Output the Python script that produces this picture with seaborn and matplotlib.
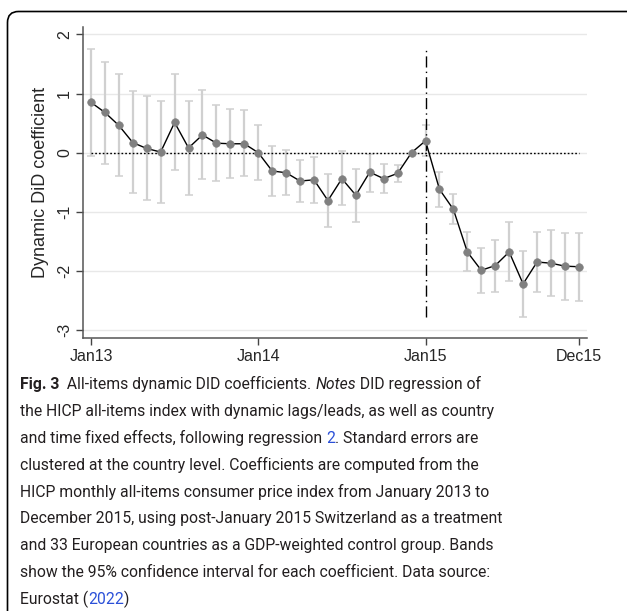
import numpy as np
import pandas as pd
import matplotlib
matplotlib.use("Agg")
import matplotlib.pyplot as plt
import matplotlib.transforms as mtransforms
from matplotlib.patches import FancyBboxPatch
import seaborn as sns

# Data, Jan 2013 .. Dec 2015
months = pd.date_range("2013-01-01", "2015-12-01", freq="MS").strftime("%b%y").tolist()
coef = [0.85, 0.68, 0.46, 0.17, 0.07, 0.01, 0.51, 0.08, 0.30, 0.16, 0.15, 0.15,
        0.00, -0.31, -0.34, -0.48, -0.46, -0.81, -0.44, -0.72, -0.33, -0.44, -0.35, 0.00,
        0.20, -0.62, -0.96, -1.68, -1.99, -1.91, -1.68, -2.22, -1.85, -1.87, -1.92, -1.93]
ci_hi = [1.75, 1.54, 1.33, 1.04, 0.95, 0.87, 1.33, 0.88, 1.06, 0.80, 0.73, 0.72,
         0.46, 0.12, 0.04, -0.12, -0.07, -0.36, 0.02, -0.27, -0.02, -0.19, -0.21, np.nan,
         0.46, -0.32, -0.70, -1.34, -1.62, -1.48, -1.18, -1.66, -1.34, -1.31, -1.36, -1.36]
ci_lo = [-0.06, -0.19, -0.40, -0.68, -0.80, -0.85, -0.30, -0.71, -0.45, -0.48, -0.43, -0.40,
         -0.47, -0.74, -0.71, -0.84, -0.85, -1.26, -0.88, -1.17, -0.67, -0.68, -0.50, np.nan,
         -0.06, -0.92, -1.21, -2.01, -2.37, -2.35, -2.17, -2.78, -2.36, -2.43, -2.49, -2.51]
tick_labels = ["Jan13", "Jan14", "Jan15", "Dec15"]
event_month = "Jan15"

df = pd.DataFrame({"t": np.arange(len(months)), "month": months,
                   "coef": coef, "lo": ci_lo, "hi": ci_hi})

sns.set_style("white")
plt.rcParams["font.family"] = ["Liberation Sans", "DejaVu Sans"]

fig = plt.figure(figsize=(6.27, 6.11), dpi=100)
ax = fig.add_axes([0.1324, 0.4473, 0.8037, 0.509])

# confidence bands
ax.errorbar(df["t"], df["coef"], yerr=[df["coef"] - df["lo"], df["hi"] - df["coef"]],
            fmt="none", ecolor="#d0d0d0", elinewidth=1.6, capsize=3, capthick=1.1, zorder=1)
ax.hlines(0, df["t"].iloc[0], df["t"].iloc[-1], colors="black", lw=1.0,
          linestyles=(0, (1.2, 1.5)), zorder=2)
t_event = months.index(event_month)
ax.vlines(t_event, np.nanmin(ci_lo), np.nanmax(ci_hi), colors="black", lw=1.0,
          linestyles=(0, (8, 3, 1, 3)), zorder=2)
sns.lineplot(data=df, x="t", y="coef", color="black", lw=1.0, ax=ax, zorder=3)
sns.scatterplot(data=df, x="t", y="coef", color="#808080", edgecolor="#808080",
                s=30, ax=ax, zorder=4)

ax.set_xlim(-0.57, 35.58)
ax.set_ylim(-3.13, 2.13)
ax.set_yticks([-3, -2, -1, 0, 1, 2])
ax.set_yticklabels(["-3", "-2", "-1", "0", "1", "2"], rotation=90, va="center")
ax.set_xticks([months.index(m) for m in tick_labels])
ax.set_xticklabels(tick_labels)
ax.grid(axis="y", color="#e8e8e8", lw=1.0)
ax.set_axisbelow(True)
ax.tick_params(axis="both", labelsize=11.5, length=5, width=1, color="#444444",
               direction="out", left=True, bottom=True, pad=3)
ax.set_xlabel("")
ax.set_ylabel("Dynamic DiD coefficient", fontsize=13, labelpad=6)
for side in ["top", "right"]:
    ax.spines[side].set_visible(False)
for side in ["left", "bottom"]:
    ax.spines[side].set_color("#555555")
    ax.spines[side].set_linewidth(1.1)

# outer frame (rounded, cropped at right and bottom)
frame = FancyBboxPatch((7.5, -20), 632, 611 - 11.5 + 20,
                       boxstyle="round,pad=0,rounding_size=11",
                       fill=False, ec="black", lw=1.2,
                       transform=mtransforms.IdentityTransform())
fig.add_artist(frame)

# caption
cap_font = ["Roboto", "DejaVu Sans"]
cap_size = 14.0
cap_color = "#231f20"
link_color = "#2b50d8"
caption = [
    [("Fig. 3", "bold"), ("  All-items dynamic DID coefficients. ", "normal"),
     ("Notes", "italic"), (" DID regression of", "normal")],
    [("the HICP all-items index with dynamic lags/leads, as well as country", "normal")],
    [("and time fixed effects, following regression ", "normal"), ("2", "link"),
     (". Standard errors are", "normal")],
    [("clustered at the country level. Coefficients are computed from the", "normal")],
    [("HICP monthly all-items consumer price index from January 2013 to", "normal")],
    [("December 2015, using post-January 2015 Switzerland as a treatment", "normal")],
    [("and 33 European countries as a GDP-weighted control group. Bands", "normal")],
    [("show the 95% confidence interval for each coefficient. Data source:", "normal")],
    [("Eurostat (", "normal"), ("2022", "link"), (")", "normal")],
]

renderer = fig.canvas.get_renderer()


def run_props(style, size):
    p = dict(family=cap_font, fontsize=size, color=cap_color)
    if style == "bold":
        p["fontweight"] = "bold"
    elif style == "italic":
        p["fontstyle"] = "italic"
    elif style == "link":
        p["color"] = link_color
    return p


def text_width(s, props):
    a = fig.text(0, 0, s + "x", **props)
    b = fig.text(0, 0, "x", **props)
    w = a.get_window_extent(renderer).width - b.get_window_extent(renderer).width
    a.remove()
    b.remove()
    return w


# fit the font so that the second caption line spans ~476 px as in the original
w2 = text_width(caption[1][0][0], run_props("normal", cap_size))
cap_size = cap_size * 476 / w2

x0, y_first, line_gap = 20, 611 - 389, 26.9
for i, line in enumerate(caption):
    x = x0
    y = y_first - i * line_gap
    for s, style in line:
        props = run_props(style, cap_size)
        fig.text(x, y, s, va="baseline", ha="left",
                 transform=mtransforms.IdentityTransform(), **props)
        x += text_width(s, props)

fig.savefig("out.png", dpi=100)
